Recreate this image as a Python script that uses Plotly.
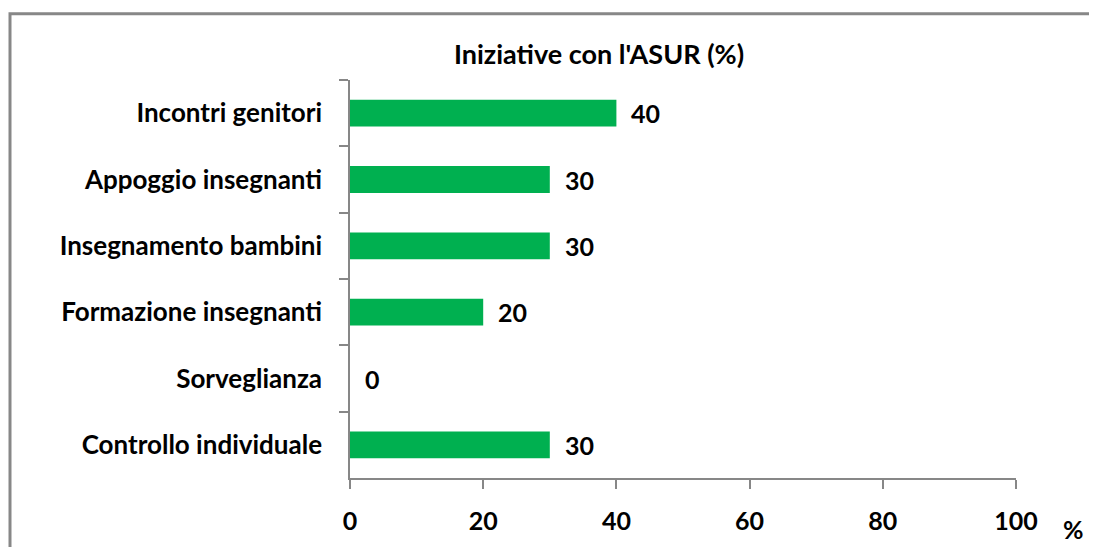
import plotly.graph_objects as go

categories = ["Incontri genitori", "Appoggio insegnanti", "Insegnamento bambini",
              "Formazione insegnanti", "Sorveglianza", "Controllo individuale"]
values = [40, 30, 30, 20, 0, 30]
x_ticks = [0, 20, 40, 60, 80, 100]
title_text = "Iniziative con l'ASUR (%)"
unit_text = "%"

# page body has an 8px margin, so work in page coords minus 8
OFF = 8
W, H = 1097 - OFF, 547 - OFF
L, R, T, B = 350 - OFF, 1016 - OFF, 80 - OFF, 480 - OFF
FONT = "Lato"
AX = "#878787"
GREEN = "#00B050"

fig = go.Figure()
fig.add_trace(go.Bar(
    x=values, y=categories, orientation="h",
    marker=dict(color=GREEN, line=dict(width=0)),
    showlegend=False, hoverinfo="x+y",
))

for c, v in zip(categories, values):
    fig.add_annotation(x=v, y=c, xref="x", yref="y", text=str(v),
                       showarrow=False, xanchor="left", yanchor="middle",
                       xshift=13, font=dict(family=FONT, size=25, color="black", weight="bold"))

pw, ph = R - L, B - T
fig.add_annotation(x=(1073 - OFF - L) / pw, y=(B - (531 - OFF)) / ph, xref="paper", yref="paper",
                   text=unit_text, showarrow=False, xanchor="center", yanchor="middle",
                   font=dict(family=FONT, size=25, color="black", weight="bold"))

fig.add_shape(type="rect", xref="paper", yref="paper",
              x0=(10 - OFF - L) / pw, x1=(W + 10 - L) / pw,
              y0=(B - (H + 10)) / ph, y1=(B - (13.5 - OFF)) / ph,
              line=dict(color=AX, width=3), fillcolor="rgba(0,0,0,0)", layer="below")

fig.update_layout(
    width=W, height=H,
    margin=dict(l=L, r=W - R, t=T, b=H - B, pad=0),
    paper_bgcolor="white", plot_bgcolor="white",
    bargap=0.595,
    title=dict(text=title_text, x=(599 - OFF) / W, xanchor="center", y=1 - (55 - OFF) / H,
               yanchor="middle", xref="container", yref="container",
               font=dict(family=FONT, size=27, color="black", weight="bold")),
    font=dict(family=FONT, color="black"),
    xaxis=dict(range=[0, 100], tickvals=x_ticks, ticks="outside", ticklen=9, tickwidth=1.5,
               tickcolor=AX, showline=True, linecolor=AX, linewidth=1.5, showgrid=False,
               zeroline=False, tickfont=dict(family=FONT, size=25, color="black", weight="bold"),
               ticklabelstandoff=11, fixedrange=True),
    yaxis=dict(categoryorder="array", categoryarray=categories, autorange="reversed",
               ticks="outside", ticklen=9, tickwidth=1.5, tickcolor=AX, tickson="boundaries",
               showline=True, linecolor=AX, linewidth=1.5, showgrid=False, zeroline=False,
               tickfont=dict(family=FONT, size=26, color="black", weight="bold"),
               ticklabelstandoff=21, fixedrange=True),
)

fig.write_html("out.html")
